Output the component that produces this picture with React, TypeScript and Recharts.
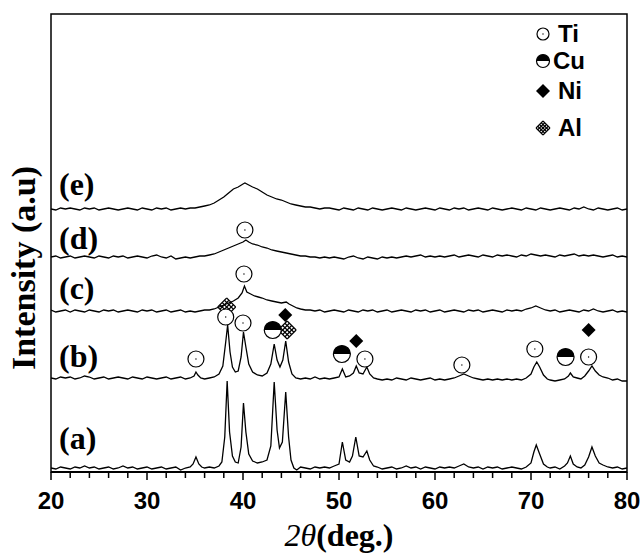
import React from 'react';
import { ComposedChart, Line, Scatter, XAxis, YAxis, ReferenceArea } from 'recharts';

type Pt = [number, number];

// 2θ (deg.) vs. raw intensity
const TRACE_A: Pt[] = [
  [20, 4], [20.5, 3], [21, 5], [21.5, 4], [22, 3], [22.5, 5], [23, 4], [23.5, 6], [24, 4], [24.5, 5],
  [25, 3], [25.5, 4], [26, 5], [26.5, 3], [27, 4], [27.5, 6], [28, 4], [28.5, 5], [29, 3], [29.5, 4],
  [30, 5], [30.5, 3], [31, 4], [31.5, 5], [32, 3], [32.5, 4], [33, 5], [33.5, 2], [34, 4], [34.5, 5],
  [34.8, 8], [35.1, 15], [35.4, 8], [35.7, 5], [36, 4], [36.5, 5], [37, 4], [37.5, 6], [37.8, 10],
  [38.1, 35], [38.35, 91], [38.6, 40], [38.9, 16], [39.2, 10], [39.5, 9], [39.8, 25], [40.05, 69],
  [40.3, 40], [40.6, 18], [41, 11], [41.5, 9], [42, 10], [42.5, 12], [42.9, 26], [43.25, 90],
  [43.55, 42], [43.8, 24], [44.1, 30], [44.45, 80], [44.75, 35], [45, 12], [45.3, 4], [45.6, 2],
  [46, 5], [46.5, 4], [47, 3], [47.5, 5], [48, 4], [48.5, 5], [49, 4], [49.5, 6], [50, 8], [50.35, 30],
  [50.7, 12], [51.1, 10], [51.4, 16], [51.75, 35], [52.1, 16], [52.5, 15], [52.9, 21], [53.2, 12],
  [53.6, 6], [54, 5], [54.5, 3], [55, 4], [55.5, 5], [56, 3], [56.5, 4], [57, 6], [57.5, 4], [58, 5],
  [58.5, 3], [59, 5], [59.5, 4], [60, 3], [60.5, 5], [61, 4], [61.5, 5], [62, 4], [62.5, 6], [63, 8],
  [63.5, 5], [64, 4], [64.5, 5], [65, 3], [65.5, 5], [66, 4], [66.5, 5], [67, 3], [67.5, 4], [68, 5],
  [68.5, 4], [69, 3], [69.5, 5], [70, 9], [70.3, 20], [70.55, 27], [70.9, 18], [71.3, 8], [71.7, 5],
  [72, 4], [72.5, 5], [73, 3], [73.5, 6], [73.8, 9], [74.1, 16], [74.4, 8], [74.8, 5], [75.2, 4],
  [75.6, 7], [76, 15], [76.35, 25], [76.7, 16], [77.1, 9], [77.5, 7], [78, 5], [78.5, 4], [79, 5],
  [79.5, 3], [80, 4],
];

const TRACE_B: Pt[] = [
  [20, 4], [20.5, 3], [21, 5], [21.5, 4], [22, 5], [22.5, 3], [23, 4], [23.5, 6], [24, 5], [24.5, 3],
  [25, 4], [25.5, 5], [26, 3], [26.5, 4], [27, 5], [27.5, 4], [28, 3], [28.5, 5], [29, 4], [29.5, 3],
  [30, 5], [30.5, 4], [31, 3], [31.5, 4], [32, 5], [32.5, 3], [33, 4], [33.5, 5], [34, 3], [34.5, 4],
  [34.9, 6], [35.1, 10], [35.3, 7], [35.6, 4], [36, 3], [36.5, 4], [37, 5], [37.5, 8], [37.9, 16],
  [38.2, 40], [38.4, 57], [38.65, 30], [38.9, 15], [39.2, 10], [39.5, 11], [39.8, 25], [40.05, 50],
  [40.3, 35], [40.6, 18], [41, 10], [41.5, 7], [42, 6], [42.5, 9], [42.9, 18], [43.25, 38], [43.55, 22],
  [43.85, 15], [44.15, 22], [44.45, 41], [44.75, 20], [45.1, 8], [45.5, 4], [46, 3], [46.5, 4], [47, 3],
  [47.5, 5], [48, 3], [48.5, 4], [49, 3], [49.5, 4], [50, 5], [50.35, 13], [50.7, 5], [51.1, 6],
  [51.5, 9], [51.8, 16], [52.1, 9], [52.5, 8], [52.9, 15], [53.2, 8], [53.6, 4], [54, 3], [54.5, 2],
  [55, 3], [55.5, 2], [56, 4], [56.5, 3], [57, 2], [57.5, 4], [58, 3], [58.5, 2], [59, 3], [59.5, 4],
  [60, 2], [60.5, 3], [61, 2], [61.5, 3], [62, 4], [62.5, 6], [63, 8], [63.5, 6], [64, 4], [64.5, 3],
  [65, 2], [65.5, 3], [66, 2], [66.5, 3], [67, 2], [67.5, 3], [68, 2], [68.5, 3], [69, 2], [69.5, 4],
  [70, 8], [70.3, 15], [70.6, 20], [70.9, 15], [71.3, 7], [71.7, 3], [72, 2], [72.5, 1], [73, 2],
  [73.5, 3], [73.9, 6], [74.1, 9], [74.4, 5], [74.8, 4], [75.2, 3], [75.6, 6], [76, 11], [76.35, 16],
  [76.7, 11], [77.1, 7], [77.5, 5], [78, 4], [78.5, 2], [79, 3], [79.5, 1], [80, 1],
];

const TRACE_C: Pt[] = [
  [20, 5], [20.5, 3], [21, 4], [21.5, 5], [22, 3], [22.5, 5], [23, 4], [23.5, 3], [24, 5], [24.5, 4],
  [25, 3], [25.5, 5], [26, 4], [26.5, 5], [27, 3], [27.5, 4], [28, 5], [28.5, 4], [29, 3], [29.5, 5],
  [30, 4], [30.5, 5], [31, 3], [31.5, 4], [32, 5], [32.5, 3], [33, 4], [33.5, 5], [34, 3], [34.5, 4],
  [35, 3], [35.5, 4], [36, 5], [36.5, 5], [37, 6], [37.5, 8], [38, 10], [38.5, 12], [39, 14], [39.5, 17],
  [39.9, 22], [40.15, 29], [40.4, 23], [40.8, 21], [41.2, 19], [41.6, 18], [42, 17], [42.5, 15], [43, 14],
  [43.5, 13], [44, 12], [44.5, 13], [44.8, 11], [45.2, 9], [45.6, 7], [46, 6], [46.5, 5], [47, 5],
  [47.5, 4], [48, 5], [48.5, 3], [49, 4], [49.5, 5], [50, 4], [50.5, 3], [51, 5], [51.5, 4], [52, 3],
  [52.5, 5], [53, 4], [53.5, 5], [54, 3], [54.5, 4], [55, 5], [55.5, 3], [56, 4], [56.5, 5], [57, 4],
  [57.5, 3], [58, 5], [58.5, 4], [59, 5], [59.5, 3], [60, 4], [60.5, 5], [61, 3], [61.5, 4], [62, 5],
  [62.5, 4], [63, 3], [63.5, 5], [64, 4], [64.5, 5], [65, 3], [65.5, 4], [66, 5], [66.5, 4], [67, 3],
  [67.5, 5], [68, 4], [68.5, 5], [69, 4], [69.5, 6], [70, 7], [70.5, 9], [71, 7], [71.5, 5], [72, 4],
  [72.5, 5], [73, 3], [73.5, 4], [74, 5], [74.5, 4], [75, 3], [75.5, 5], [76, 4], [76.5, 6], [77, 4],
  [77.5, 3], [78, 4], [78.5, 5], [79, 3], [79.5, 4], [80, 3],
];

const TRACE_D: Pt[] = [
  [20, 4], [20.5, 5], [21, 3], [21.5, 4], [22, 5], [22.5, 3], [23, 4], [23.5, 5], [24, 4], [24.5, 3],
  [25, 5], [25.5, 4], [26, 3], [26.5, 5], [27, 4], [27.5, 5], [28, 3], [28.5, 4], [29, 5], [29.5, 4],
  [30, 3], [30.5, 5], [31, 6], [31.5, 4], [32, 3], [32.5, 5], [33, 2], [33.5, 3], [34, 4], [34.5, 3],
  [35, 4], [35.5, 5], [36, 5], [36.5, 6], [37, 7], [37.5, 9], [38, 11], [38.5, 13], [39, 15], [39.5, 17],
  [40, 19], [40.3, 21], [40.6, 19], [41, 17], [41.5, 16], [42, 14], [42.5, 13], [43, 11], [43.5, 10],
  [44, 9], [44.5, 8], [45, 7], [45.5, 6], [46, 5], [46.5, 5], [47, 4], [47.5, 4], [48, 3], [48.5, 4],
  [49, 3], [49.5, 4], [50, 3], [50.5, 2], [51, 4], [51.5, 5], [52, 3], [52.5, 2], [53, 4], [53.5, 3],
  [54, 2], [54.5, 4], [55, 3], [55.5, 4], [56, 3], [56.5, 4], [57, 5], [57.5, 4], [58, 5], [58.5, 6],
  [59, 4], [59.5, 5], [60, 4], [60.5, 5], [61, 4], [61.5, 5], [62, 6], [62.5, 4], [63, 5], [63.5, 6],
  [64, 5], [64.5, 4], [65, 6], [65.5, 5], [66, 4], [66.5, 6], [67, 5], [67.5, 6], [68, 5], [68.5, 4],
  [69, 6], [69.5, 5], [70, 7], [70.5, 6], [71, 5], [71.5, 6], [72, 5], [72.5, 4], [73, 6], [73.5, 5],
  [74, 6], [74.5, 7], [75, 5], [75.5, 6], [76, 5], [76.5, 6], [77, 5], [77.5, 4], [78, 5], [78.5, 6],
  [79, 4], [79.5, 5], [80, 4],
];

const TRACE_E: Pt[] = [
  [20, 4], [20.5, 3], [21, 5], [21.5, 4], [22, 5], [22.5, 4], [23, 3], [23.5, 5], [24, 4], [24.5, 5],
  [25, 3], [25.5, 4], [26, 5], [26.5, 4], [27, 3], [27.5, 4], [28, 5], [28.5, 4], [29, 3], [29.5, 5],
  [30, 4], [30.5, 3], [31, 5], [31.5, 4], [32, 5], [32.5, 3], [33, 4], [33.5, 5], [34, 4], [34.5, 5],
  [35, 5], [35.5, 6], [36, 7], [36.5, 8], [37, 10], [37.5, 13], [38, 16], [38.5, 20], [39, 24], [39.5, 26],
  [40, 29], [40.2, 30], [40.6, 28], [41, 26], [41.5, 24], [42, 21], [42.5, 18], [43, 16], [43.5, 14],
  [44, 13], [44.5, 11], [45, 9], [45.5, 8], [46, 7], [46.5, 6], [47, 6], [47.5, 5], [48, 4], [48.5, 5],
  [49, 5], [49.5, 4], [50, 3], [50.5, 5], [51, 4], [51.5, 3], [52, 5], [52.5, 4], [53, 3], [53.5, 5],
  [54, 4], [54.5, 3], [55, 4], [55.5, 5], [56, 4], [56.5, 3], [57, 5], [57.5, 4], [58, 3], [58.5, 4],
  [59, 5], [59.5, 4], [60, 3], [60.5, 5], [61, 4], [61.5, 3], [62, 5], [62.5, 4], [63, 5], [63.5, 3],
  [64, 4], [64.5, 5], [65, 4], [65.5, 3], [66, 5], [66.5, 4], [67, 3], [67.5, 4], [68, 5], [68.5, 4],
  [69, 3], [69.5, 5], [70, 4], [70.5, 3], [71, 5], [71.5, 4], [72, 3], [72.5, 4], [73, 5], [73.5, 4],
  [74, 3], [74.5, 5], [75, 4], [75.5, 6], [76, 4], [76.5, 3], [77, 5], [77.5, 4], [78, 3], [78.5, 4],
  [79, 5], [79.5, 3], [80, 4],
];

const TRACES = [TRACE_A, TRACE_B, TRACE_C, TRACE_D, TRACE_E];
const TRACE_NAMES = ['(a)', '(b)', '(c)', '(d)', '(e)'];
// vertical stacking offset of each pattern
const TRACE_OFFSETS = [0, 90, 157, 211, 259];

// phase markers: [2θ, height on the stacked scale]
const TI_MARKS: Pt[] = [
  [35.1, 113], [38.2, 155], [40.0, 149], [52.7, 113], [62.8, 107], [70.4, 123], [76.0, 115],
  [40.1, 198], [40.2, 242],
];
const CU_MARKS: Pt[] = [[43.1, 142], [50.3, 118], [73.6, 115]];
const NI_MARKS: Pt[] = [[44.4, 157], [51.8, 131], [76.0, 142]];
const AL_MARKS: Pt[] = [[38.3, 165], [44.6, 142]];

const X_TICKS = [20, 22, 24, 26, 28, 30, 32, 34, 36, 38, 40, 42, 44, 46, 48, 50, 52, 54, 56, 58, 60, 62, 64, 66, 68, 70, 72, 74, 76, 78, 80];

const SERIF = '"Liberation Serif", "Times New Roman", serif';
const SANS = '"Liberation Sans", Arial, sans-serif';

const toPts = (arr: Pt[], off = 0) => arr.map(([x, v]) => ({ x, y: v + off }));

const TiIcon = ({ cx, cy, r = 8 }: { cx: number; cy: number; r?: number }) => (
  <g>
    <circle cx={cx} cy={cy} r={r} fill="#fff" stroke="#000" strokeWidth={1.2} />
    <circle cx={cx} cy={cy} r={0.7} fill="#000" />
  </g>
);

const CuIcon = ({ cx, cy, r = 8.5 }: { cx: number; cy: number; r?: number }) => (
  <g>
    <circle cx={cx} cy={cy} r={r} fill="#fff" stroke="#000" strokeWidth={1.2} />
    <path d={`M${cx - r},${cy} A${r},${r} 0 0 1 ${cx + r},${cy} Z`} fill="#000" />
  </g>
);

const NiIcon = ({ cx, cy, r = 7 }: { cx: number; cy: number; r?: number }) => (
  <polygon points={`${cx},${cy - r} ${cx + r},${cy} ${cx},${cy + r} ${cx - r},${cy}`} fill="#000" />
);

// cross-hatched diamond
const AlIcon = ({ cx, cy, r = 9 }: { cx: number; cy: number; r?: number }) => {
  const cs = [-r, -r / 2, 0, r / 2, r];
  return (
    <g stroke="#000" strokeWidth={1.1} fill="none">
      {cs.map((c, i) => (
        <g key={i}>
          <line x1={cx + (c - r) / 2} y1={cy + (-r - c) / 2} x2={cx + (c + r) / 2} y2={cy + (r - c) / 2} />
          <line x1={cx + (c - r) / 2} y1={cy + (c + r) / 2} x2={cx + (c + r) / 2} y2={cy + (c - r) / 2} />
        </g>
      ))}
    </g>
  );
};

const renderTick = (props: any) => {
  const { x, y, payload } = props;
  const major = payload.value % 10 === 0;
  return (
    <g>
      <line x1={x} x2={x} y1={y} y2={y + (major ? 8 : 6)} stroke="#000" strokeWidth={1.5} />
      {major && (
        <text x={x} y={y + 37} textAnchor="middle" fontFamily={SANS} fontWeight="bold" fontSize={24} fill="#000">
          {payload.value}
        </text>
      )}
    </g>
  );
};

const LABEL_Y = [449, 367, 299, 249, 195];
const LEGEND = [
  { name: 'Ti', y: 34, icon: TiIcon, r: 6, tx: 558 },
  { name: 'Cu', y: 61, icon: CuIcon, r: 6.5, tx: 553 },
  { name: 'Ni', y: 91, icon: NiIcon, r: 7, tx: 558 },
  { name: 'Al', y: 128, icon: AlIcon, r: 7, tx: 558 },
];

const App: React.FC = () => {
  return (
    <div style={{ position: 'fixed', left: 0, top: 0, width: 640, height: 553, background: '#fff' }}>
      <ComposedChart width={640} height={553} margin={{ top: 14, right: 13, bottom: 0, left: 51 }}>
        <XAxis
          type="number"
          dataKey="x"
          domain={[20, 80]}
          ticks={X_TICKS}
          interval={0}
          height={81}
          tickSize={0}
          tickMargin={0}
          tickLine={false}
          tick={renderTick}
          axisLine={{ stroke: '#000', strokeWidth: 2 }}
          allowDataOverflow
        />
        <YAxis type="number" dataKey="y" domain={[0, 458]} hide allowDataOverflow />
        <ReferenceArea x1={20} x2={80} y1={0} y2={458} fill="none" stroke="#000" strokeWidth={1.5} ifOverflow="visible" />
        {TRACES.map((t, i) => (
          <Line
            key={TRACE_NAMES[i]}
            data={toPts(t, TRACE_OFFSETS[i])}
            dataKey="y"
            type="linear"
            stroke="#000"
            strokeWidth={1.3}
            dot={false}
            isAnimationActive={false}
          />
        ))}
        <Scatter data={toPts(AL_MARKS)} dataKey="y" isAnimationActive={false} shape={(p: any) => <AlIcon cx={p.cx} cy={p.cy} />} />
        <Scatter data={toPts(TI_MARKS)} dataKey="y" isAnimationActive={false} shape={(p: any) => <TiIcon cx={p.cx} cy={p.cy} />} />
        <Scatter data={toPts(CU_MARKS)} dataKey="y" isAnimationActive={false} shape={(p: any) => <CuIcon cx={p.cx} cy={p.cy} />} />
        <Scatter data={toPts(NI_MARKS)} dataKey="y" isAnimationActive={false} shape={(p: any) => <NiIcon cx={p.cx} cy={p.cy} />} />
      </ComposedChart>
      <svg width={640} height={553} style={{ position: 'absolute', left: 0, top: 0, pointerEvents: 'none' }}>
        {TRACE_NAMES.map((n, i) => (
          <text key={n} x={59} y={LABEL_Y[i]} fontFamily={SERIF} fontWeight="bold" fontSize={32} fill="#000">
            {n}
          </text>
        ))}
        <text
          transform="translate(35,268) rotate(-90)"
          textAnchor="middle"
          fontFamily={SERIF}
          fontWeight="bold"
          fontSize={34}
          fill="#000"
        >
          Intensity (a.u)
        </text>
        <text x={339} y={546} textAnchor="middle" fontFamily={SERIF} fontSize={32} fill="#000">
          <tspan fontStyle="italic">2θ</tspan>
          <tspan fontWeight="bold">(deg.)</tspan>
        </text>
        {LEGEND.map((l) => {
          const Icon = l.icon;
          return (
            <g key={l.name}>
              <Icon cx={543} cy={l.y} r={l.r} />
              <text x={l.tx} y={l.y + 8} fontFamily={SANS} fontWeight="bold" fontSize={24} fill="#000">
                {l.name}
              </text>
            </g>
          );
        })}
      </svg>
    </div>
  );
};

export default App;
